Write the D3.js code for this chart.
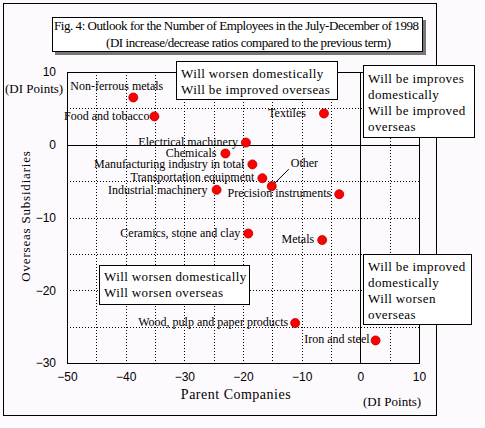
<!DOCTYPE html>
<html>
<head>
<meta charset="utf-8">
<script src="https://cdn.jsdelivr.net/npm/d3@7"></script>
<style>
  body { margin: 0; background: #fdfafd; }
  svg { display: block; }
  .serif { font-family: "Liberation Serif", "Times New Roman", serif; }
</style>
</head>
<body>
<div id="chart"></div>
<script>
// industries (parent companies DI, overseas subsidiaries DI)
const industries = ["Non-ferrous metals", "Food and tobacco", "Textiles", "Electrical machinery",
  "Chemicals", "Manufacturing industry in total", "Transportation equipment", "Other",
  "Industrial machinery", "Precision instruments", "Ceramics, stone and clay", "Metals",
  "Wood, pulp and paper products", "Iron and steel"];
const parentDI = [-38.7, -35.1, -6.2, -19.5, -23.0, -18.4, -16.7, -15.1, -24.5, -3.6, -19.1, -6.5, -11.1, 2.6];
const overseasDI = [6.5, 3.9, 4.3, 0.3, -1.2, -2.7, -4.6, -5.7, -6.2, -6.8, -12.2, -13.1, -24.5, -26.9];
const xTicks = [-50, -40, -30, -20, -10, 0, 10];
const yTicks = [10, 0, -10, -20, -30];
const xGrid = [-45, -40, -35, -30, -25, -20, -15, -10, -5, 5];
const yGrid = [5, -5, -10, -15, -20, -25];

// label placement relative to the dot
const labelPos = {
  "Non-ferrous metals": [-63, -7, "start"],
  "Food and tobacco": [-5, 4, "end"],
  "Textiles": [-18, 4, "end"],
  "Electrical machinery": [-8, 3, "end"],
  "Chemicals": [-9, 4, "end"],
  "Manufacturing industry in total": [-8, 3.5, "end"],
  "Transportation equipment": [-8, 3, "end"],
  "Other": [19, -19, "start"],
  "Industrial machinery": [-9, 4, "end"],
  "Precision instruments": [-8, 2.5, "end"],
  "Ceramics, stone and clay": [-8, 3.4, "end"],
  "Metals": [-8, 3, "end"],
  "Wood, pulp and paper products": [-7, 3.4, "end"],
  "Iron and steel": [-6, 2.6, "end"]
};

const data = industries.map((name, i) => ({name: name, x: parentDI[i], y: overseasDI[i]}));

const W = 485, H = 428;
const plot = {left: 67, right: 419, top: 72, bottom: 363};

const svg = d3.select("#chart").append("svg")
  .attr("width", W).attr("height", H)
  .attr("class", "serif");

svg.append("rect").attr("width", W).attr("height", H).attr("fill", "#fdfafd");

// outer frame
svg.append("rect")
  .attr("x", 3.5).attr("y", 3.5).attr("width", 433).attr("height", 412)
  .attr("fill", "#fdfafd").attr("stroke", "#000");

const x = d3.scaleLinear().domain([-50, 10]).range([plot.left, plot.right]);
const y = d3.scaleLinear().domain([10, -30]).range([plot.top, plot.bottom]);

// grid
svg.append("g").selectAll("line").data(xGrid).enter().append("line")
  .attr("x1", d => Math.round(x(d)) + 0.5).attr("x2", d => Math.round(x(d)) + 0.5)
  .attr("y1", plot.top).attr("y2", plot.bottom)
  .attr("stroke", "#000").attr("stroke-dasharray", "1,2");
svg.append("g").selectAll("line").data(yGrid).enter().append("line")
  .attr("y1", d => Math.round(y(d)) + 0.5).attr("y2", d => Math.round(y(d)) + 0.5)
  .attr("x1", plot.left).attr("x2", plot.right)
  .attr("stroke", "#000").attr("stroke-dasharray", "1,2");

// zero lines
svg.append("line")
  .attr("x1", Math.round(x(0)) + 0.5).attr("x2", Math.round(x(0)) + 0.5)
  .attr("y1", plot.top).attr("y2", plot.bottom).attr("stroke", "#000");
svg.append("line")
  .attr("y1", Math.round(y(0)) + 0.5).attr("y2", Math.round(y(0)) + 0.5)
  .attr("x1", plot.left).attr("x2", plot.right).attr("stroke", "#000");

// plot frame
svg.append("rect")
  .attr("x", plot.left + 0.5).attr("y", plot.top + 0.5)
  .attr("width", plot.right - plot.left).attr("height", plot.bottom - plot.top)
  .attr("fill", "none").attr("stroke", "#000");

// axes (labels only)
const fmt = d => d < 0 ? "\u2212" + Math.abs(d) : String(d);
const xAxis = svg.append("g")
  .attr("transform", "translate(0," + (plot.bottom + 6) + ")")
  .call(d3.axisBottom(x).tickValues(xTicks).tickSize(0).tickFormat(fmt));
const yAxis = svg.append("g")
  .attr("transform", "translate(" + (plot.left - 8) + ",0)")
  .call(d3.axisLeft(y).tickValues(yTicks).tickSize(0).tickFormat(fmt));
[xAxis, yAxis].forEach(a => {
  a.select(".domain").remove();
  a.selectAll("text")
    .style("font-family", "'Liberation Sans', Arial, sans-serif")
    .style("font-size", "12px").attr("fill", "#000");
});

// title box with shadow
svg.append("rect").attr("x", 55).attr("y", 20).attr("width", 371).attr("height", 35).attr("fill", "#777");
svg.append("rect").attr("x", 52.5).attr("y", 17.5).attr("width", 370).attr("height", 34)
  .attr("fill", "#fff").attr("stroke", "#000");
svg.append("text").attr("x", 54).attr("y", 30).style("font-size", "13px")
  .attr("textLength", 365)
  .text("Fig. 4: Outlook for the Number of Employees in the July-December of 1998");
svg.append("text").attr("x", 106).attr("y", 47).style("font-size", "13px")
  .attr("textLength", 285)
  .text("(DI increase/decrease ratios compared to the previous term)");

// axis titles
svg.append("text").attr("x", 5).attr("y", 93).style("font-size", "13px").text("(DI Points)");
svg.append("text").attr("x", 363).attr("y", 406).style("font-size", "13px").text("(DI Points)");
svg.append("text").attr("x", 236).attr("y", 399).attr("text-anchor", "middle")
  .style("font-size", "14px").style("letter-spacing", "0.5px").text("Parent Companies");
svg.append("text").attr("transform", "translate(30,216) rotate(-90)").attr("text-anchor", "middle")
  .style("font-size", "13px").style("letter-spacing", "0.8px").text("Overseas Subsidiaries");

// leader line for "Other"
const other = data.find(d => d.name === "Other");
svg.append("line")
  .attr("x1", x(other.x) + 2).attr("y1", y(other.y) - 2)
  .attr("x2", x(other.x) + 17).attr("y2", y(other.y) - 17)
  .attr("stroke", "#000");

// point labels
svg.append("g").selectAll("text").data(data).enter().append("text")
  .attr("x", d => x(d.x) + labelPos[d.name][0])
  .attr("y", d => y(d.y) + labelPos[d.name][1])
  .attr("text-anchor", d => labelPos[d.name][2])
  .style("font-size", "12px").style("letter-spacing", "0px")
  .text(d => d.name);

// points
svg.append("g").selectAll("circle").data(data).enter().append("circle")
  .attr("cx", d => x(d.x)).attr("cy", d => y(d.y)).attr("r", 4.5)
  .attr("fill", "#ff0000").attr("stroke", "#b00000").attr("stroke-width", 0.8);

// quadrant boxes
const boxes = [
  {x: 176, y: 61, w: 161, h: 38, lines: ["Will worsen domestically", "Will be improved overseas"], y0: 78},
  {x: 363, y: 65, w: 111, h: 72, lines: ["Will be improves", "domestically", "Will be improved", "overseas"], y0: 83},
  {x: 363, y: 254, w: 108, h: 70, lines: ["Will be improved", "domestically", "Will worsen", "overseas"], y0: 271},
  {x: 99, y: 265, w: 150, h: 39, lines: ["Will worsen domestically", "Will worsen overseas"], y0: 281}
];
const bg = svg.append("g").selectAll("g").data(boxes).enter().append("g");
bg.append("rect")
  .attr("x", d => d.x + 0.5).attr("y", d => d.y + 0.5).attr("width", d => d.w).attr("height", d => d.h)
  .attr("fill", "#fff").attr("stroke", "#000");
bg.each(function(d) {
  const g = d3.select(this);
  d.lines.forEach((t, i) => {
    g.append("text").attr("x", d.x + 5).attr("y", d.y0 + i * 16)
      .style("font-size", "13px").style("letter-spacing", "0.4px").text(t);
  });
});
</script>
</body>
</html>
